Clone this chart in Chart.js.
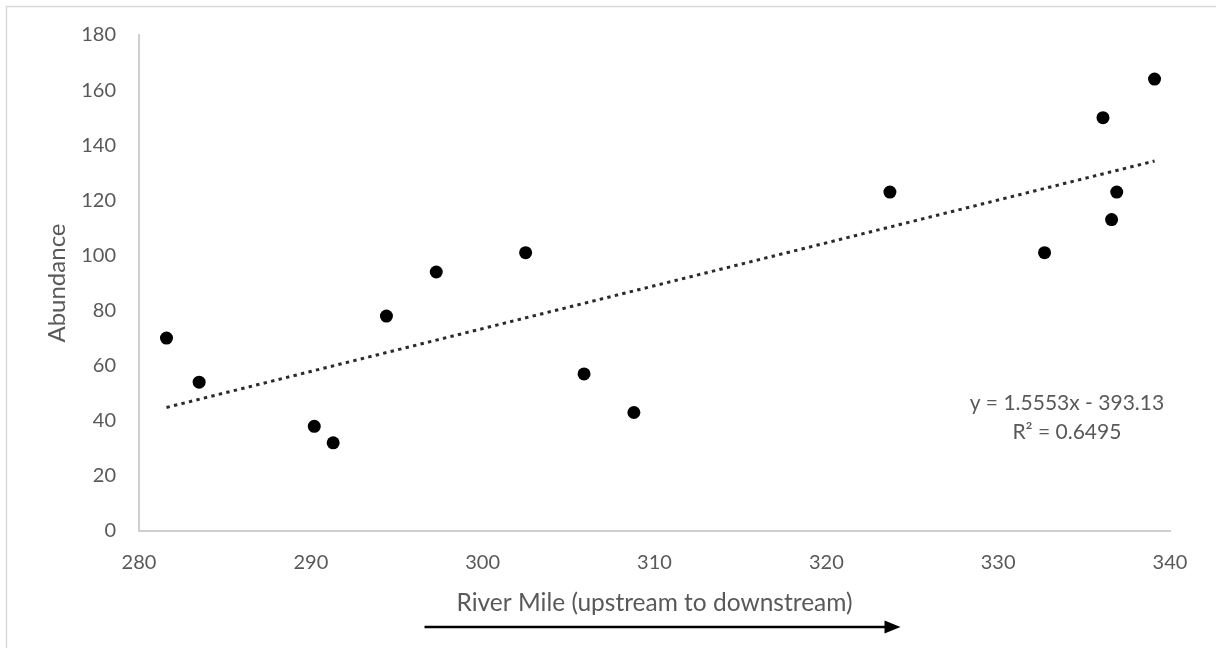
<!DOCTYPE html>
<html>
<head>
<meta charset="utf-8">
<title>Abundance by River Mile</title>
<script src="https://cdn.jsdelivr.net/npm/chart.js@4.4.1/dist/chart.umd.min.js"></script>
<style>
  html, body { margin: 0; padding: 0; background: #ffffff; }
  #wrap { position: relative; width: 1216px; height: 648px; }
</style>
</head>
<body>
<div id="wrap"><canvas id="chart" width="1216" height="648"></canvas></div>
<script>
// Survey sites: river mile and fish abundance at each site
const riverMile = [281.6, 283.5, 290.2, 291.3, 294.4, 297.3, 302.5, 305.9, 308.8, 323.7, 332.7, 336.1, 336.9, 336.6, 339.1];
const abundance = [70, 54, 38, 32, 78, 94, 101, 57, 43, 123, 101, 150, 123, 113, 164];

// Axis tick labels
const xTickValues = [280, 290, 300, 310, 320, 330, 340];
const yTickValues = [0, 20, 40, 60, 80, 100, 120, 140, 160, 180];

// Linear trendline as reported
const trendSlope = 1.5553;
const trendIntercept = -393.13;
const trendR2 = 0.6495;

const FONT = 'Lato, "Open Sans", "DejaVu Sans", sans-serif';
const TEXT_GREY = '#595959';
const AXIS_GREY = '#cfcfcf';

const points = riverMile.map((x, i) => ({ x: x, y: abundance[i] }));
const xMin = Math.min(...riverMile);
const xMax = Math.max(...riverMile);
const trendPoints = [xMin, xMax].map(x => ({ x: x, y: trendSlope * x + trendIntercept }));

const fmtSigned = v => (v < 0 ? ' - ' + Math.abs(v) : ' + ' + v);
const equationLines = [
  'y = ' + trendSlope + 'x' + fmtSigned(trendIntercept),
  'R\u00B2 = ' + trendR2
];

const decorations = {
  id: 'decorations',
  beforeDraw(chart) {
    const ctx = chart.ctx;
    ctx.save();
    ctx.strokeStyle = '#d9d9d9';
    ctx.lineWidth = 1.5;
    ctx.beginPath();
    ctx.moveTo(6.5, chart.height);
    ctx.lineTo(6.5, 6.5);
    ctx.lineTo(chart.width, 6.5);
    ctx.stroke();
    ctx.restore();
  },
  afterDraw(chart) {
    const ctx = chart.ctx;
    const xs = chart.scales.x;
    const ys = chart.scales.y;
    ctx.save();

    // trendline equation and R-squared
    ctx.fillStyle = TEXT_GREY;
    ctx.font = '21px ' + FONT;
    ctx.textAlign = 'center';
    ctx.textBaseline = 'middle';
    const ex = xs.getPixelForValue(334);
    const ey = ys.getPixelForValue(46.4);
    equationLines.forEach((line, i) => ctx.fillText(line, ex, ey + i * 29));

    // direction-of-flow arrow under the axis title
    const cx = (chart.chartArea.left + chart.chartArea.right) / 2;
    const ay = 627;
    const ax0 = cx - 230;
    const ax1 = cx + 246;
    ctx.strokeStyle = '#000000';
    ctx.fillStyle = '#000000';
    ctx.lineWidth = 2.5;
    ctx.beginPath();
    ctx.moveTo(ax0, ay);
    ctx.lineTo(ax1 - 12, ay);
    ctx.stroke();
    ctx.beginPath();
    ctx.moveTo(ax1, ay);
    ctx.lineTo(ax1 - 16, ay - 6.5);
    ctx.lineTo(ax1 - 16, ay + 6.5);
    ctx.closePath();
    ctx.fill();
    ctx.restore();
  }
};

new Chart(document.getElementById('chart'), {
  type: 'scatter',
  data: {
    datasets: [
      {
        label: 'Abundance',
        data: points,
        pointRadius: 6.5,
        pointHoverRadius: 6.5,
        pointBackgroundColor: '#000000',
        pointBorderColor: '#000000',
        pointBorderWidth: 0
      },
      {
        label: 'Linear trend',
        data: trendPoints,
        showLine: true,
        pointRadius: 0,
        borderColor: '#2b2b2b',
        borderWidth: 3,
        borderDash: [3.4, 4.3],
        borderCapStyle: 'butt',
        fill: false
      }
    ]
  },
  options: {
    responsive: false,
    animation: false,
    devicePixelRatio: 1,
    layout: { padding: { top: 34, right: 46, left: 0, bottom: 0 } },
    plugins: {
      legend: { display: false },
      tooltip: { enabled: false }
    },
    scales: {
      x: {
        type: 'linear',
        min: 280,
        max: 340,
        afterBuildTicks: s => { s.ticks = xTickValues.map(v => ({ value: v })); },
        afterFit: s => { s.height = 117; },
        grid: { display: false, drawTicks: false },
        border: { display: true, color: AXIS_GREY, width: 2 },
        ticks: { color: TEXT_GREY, font: { family: FONT, size: 20 }, padding: 20, maxRotation: 0 },
        title: {
          display: true,
          text: 'River Mile (upstream to downstream)',
          color: TEXT_GREY,
          font: { family: FONT, size: 24.5 },
          padding: { top: 0, bottom: 30 }
        }
      },
      y: {
        type: 'linear',
        min: 0,
        max: 180,
        afterBuildTicks: s => { s.ticks = yTickValues.map(v => ({ value: v })); },
        afterFit: s => { s.width = 139; },
        grid: { display: false, drawTicks: false },
        border: { display: true, color: AXIS_GREY, width: 2 },
        ticks: { color: TEXT_GREY, font: { family: FONT, size: 20 }, padding: 23 },
        title: {
          display: true,
          text: 'Abundance',
          color: TEXT_GREY,
          font: { family: FONT, size: 24 },
          padding: { top: 43, bottom: 0 }
        }
      }
    }
  },
  plugins: [decorations]
});
</script>
</body>
</html>
